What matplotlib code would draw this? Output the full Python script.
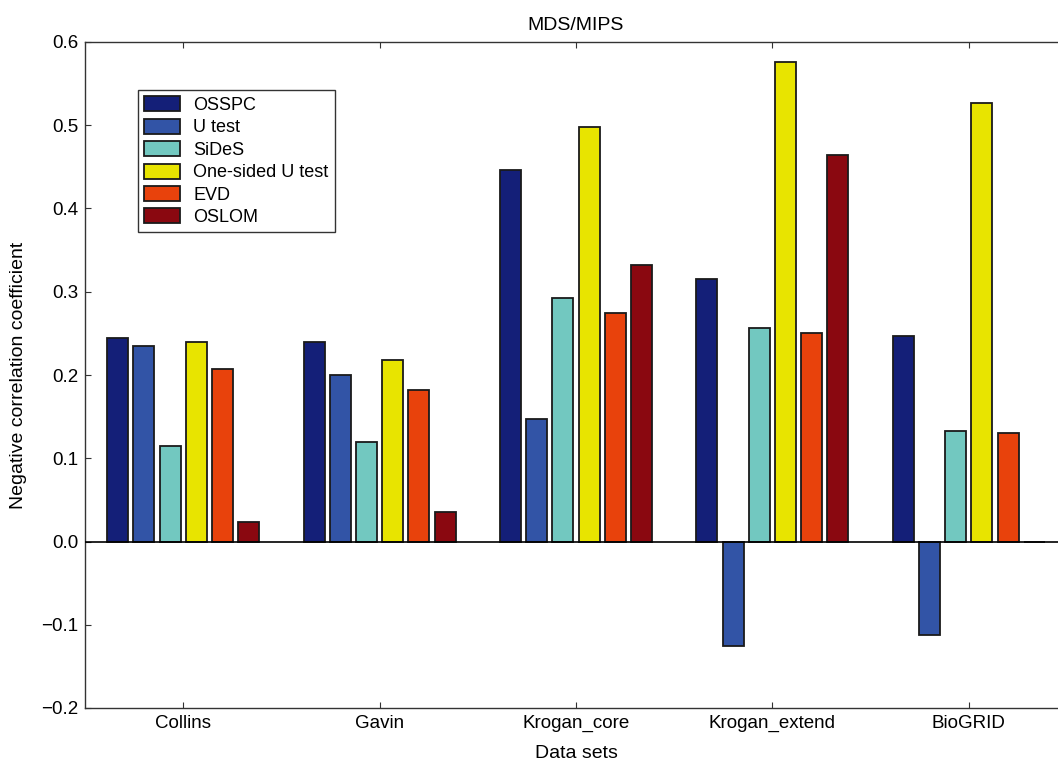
import numpy as np
import matplotlib
matplotlib.use('Agg')
import matplotlib.pyplot as plt
from matplotlib.ticker import FuncFormatter

plt.rcParams['font.family'] = ['Liberation Sans', 'DejaVu Sans']

datasets = ['Collins', 'Gavin', 'Krogan_core', 'Krogan_extend', 'BioGRID']
methods = ['OSSPC', 'U test', 'SiDeS', 'One-sided U test', 'EVD', 'OSLOM']
colors = ['#141f78', '#3254a6', '#72c8c0', '#e8e400', '#e8420c', '#8a0810']

osspc = [0.245, 0.240, 0.446, 0.315, 0.247]
utest = [0.235, 0.200, 0.147, -0.125, -0.112]
sides = [0.115, 0.120, 0.293, 0.257, 0.133]
onesided = [0.240, 0.218, 0.498, 0.576, 0.527]
evd = [0.207, 0.182, 0.274, 0.251, 0.130]
oslom = [0.023, 0.035, 0.332, 0.464, 0.0]
series = [osspc, utest, sides, onesided, evd, oslom]

W, H = 1058, 766
fig = plt.figure(figsize=(W / 100, H / 100), dpi=100)
l, r, t, b = 85, 1067, 42, 708
ax = fig.add_axes([l / W, 1 - b / H, (r - l) / W, (b - t) / H])

x = np.arange(1, len(datasets) + 1)
pitch = 0.1333
width = 0.107
for i, (vals, c, name) in enumerate(zip(series, colors, methods)):
    ax.bar(x + (i - 2.5) * pitch, vals, width, color=c, edgecolor='#1a1a1a',
           linewidth=1.3, label=name, zorder=2)

ax.axhline(0, color='black', linewidth=1.2, zorder=3)
ax.set_xlim(0.5, 5.5)
ax.set_ylim(-0.2, 0.6)
ax.set_xticks(x)
ax.set_xticklabels(datasets)
ax.set_yticks(np.arange(-0.2, 0.61, 0.1))
ax.yaxis.set_major_formatter(FuncFormatter(lambda v, p: ('%.1f' % v).replace('-', '\u2212')))
ax.tick_params(direction='in', length=4.5, width=0.8, top=True, right=True,
               labelsize=13.5, pad=5, colors='#333333', labelcolor='black')
for s in ax.spines.values():
    s.set_linewidth(1.0)
    s.set_color('#333333')

ax.set_title('MDS/MIPS', fontsize=14, pad=9)
ax.set_xlabel('Data sets', fontsize=14, labelpad=9)
ax.set_ylabel('Negative correlation coefficient', fontsize=14, labelpad=10)

leg = ax.legend(loc='upper left', bbox_to_anchor=(0.054, 0.928), fontsize=13,
                frameon=True, fancybox=False, handlelength=2.0, handleheight=0.9,
                labelspacing=0.26, borderpad=0.35, handletextpad=0.7,
                borderaxespad=0)
leg.get_frame().set_edgecolor('black')
leg.get_frame().set_linewidth(1.0)

fig.savefig('out.png', dpi=100)
